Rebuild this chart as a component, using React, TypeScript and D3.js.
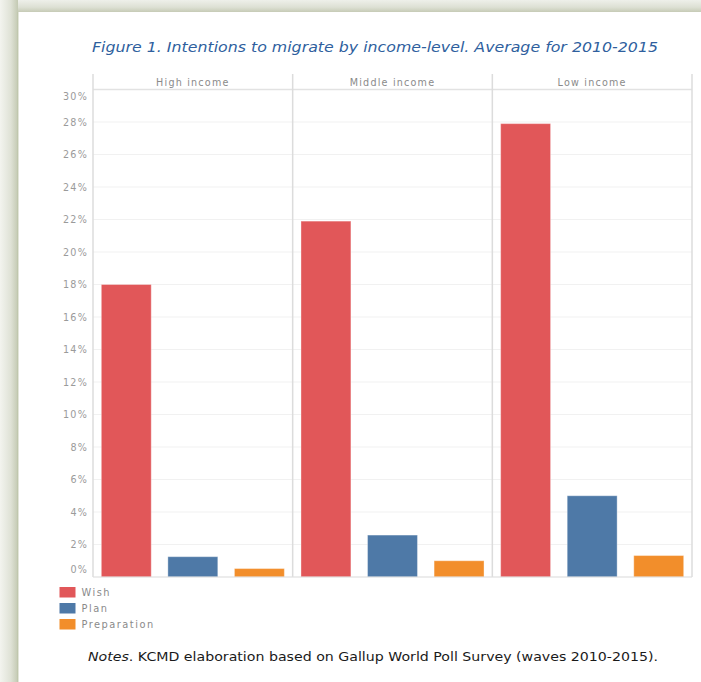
import React from "react";
import * as d3 from "d3";

const incomeGroups = ["High income", "Middle income", "Low income"];
const seriesNames = ["Wish", "Plan", "Preparation"];
const wishValues = [18.0, 21.9, 27.9];
const planValues = [1.25, 2.58, 5.0];
const prepValues = [0.52, 1.0, 1.32];
const yTicks = [0, 2, 4, 6, 8, 10, 12, 14, 16, 18, 20, 22, 24, 26, 28, 30];
const seriesColors = ["#e15759", "#4e79a7", "#f28e2b"];

const W = 701;
const H = 682;
const plotLeft = 93;
const plotRight = 692;
const plotTop = 89.5;
const plotBottom = 577;
const headerTop = 74;

export default function App() {
  const values = [wishValues, planValues, prepValues];
  const y = d3.scaleLinear().domain([0, 30]).range([plotBottom, plotTop]);
  const panel = d3.scaleBand<string>().domain(incomeGroups).range([plotLeft, plotRight]).padding(0);
  const inner = d3
    .scaleBand<string>()
    .domain(seriesNames)
    .range([0, panel.bandwidth()])
    .paddingInner(0.25)
    .paddingOuter(0.125);

  const font = "'DejaVu Sans', Verdana, sans-serif";

  return (
    <svg width={W} height={H} style={{ position: "absolute", left: 0, top: 0 }} xmlns="http://www.w3.org/2000/svg">
      <defs>
        <linearGradient id="leftBand" x1="0" x2="1" y1="0" y2="0">
          <stop offset="0" stopColor="#f3f4ef" />
          <stop offset="0.6" stopColor="#dfe2d6" />
          <stop offset="1" stopColor="#c3c9b2" />
        </linearGradient>
        <linearGradient id="topBand" x1="0" x2="0" y1="0" y2="1">
          <stop offset="0" stopColor="#eef0ea" />
          <stop offset="0.6" stopColor="#dde0d4" />
          <stop offset="1" stopColor="#c6cbb6" />
        </linearGradient>
      </defs>
      <rect x={0} y={0} width={W} height={H} fill="#ffffff" />
      <rect x={0} y={0} width={W} height={12} fill="url(#topBand)" />
      <rect x={0} y={0} width={18} height={H} fill="url(#leftBand)" />
      <line x1={18} x2={18} y1={12} y2={H} stroke="#b9c1a3" strokeWidth={0.8} />

      {/* Title */}
      <text
        x={375}
        y={52}
        textAnchor="middle"
        fontFamily={font}
        fontStyle="italic"
        fontSize={14}
        textLength={566}
        lengthAdjust="spacingAndGlyphs"
        fill="#2f5f9e"
      >
        Figure 1. Intentions to migrate by income-level. Average for 2010-2015
      </text>

      {/* gridlines */}
      {yTicks.map((t) => (
        <line
          key={"g" + t}
          x1={plotLeft}
          x2={plotRight}
          y1={y(t)}
          y2={y(t)}
          stroke={t === 30 ? "#e2e2e2" : "#f1f1f1"}
          strokeWidth={t === 30 ? 1.5 : 1}
        />
      ))}

      {/* panel vertical lines */}
      {incomeGroups.map((g) => (
        <line
          key={"v" + g}
          x1={panel(g)!}
          x2={panel(g)!}
          y1={headerTop}
          y2={plotBottom}
          stroke="#dcdcdc"
          strokeWidth={1.5}
        />
      ))}
      <line x1={plotRight} x2={plotRight} y1={headerTop} y2={plotBottom} stroke="#dcdcdc" strokeWidth={1.5} />

      {/* headers */}
      {incomeGroups.map((g) => (
        <text
          key={"h" + g}
          x={panel(g)! + panel.bandwidth() / 2}
          y={85.5}
          textAnchor="middle"
          fontFamily={font}
          fontSize={9.6}
          letterSpacing={1.2}
          fill="#8a8a8a"
        >
          {g}
        </text>
      ))}

      {/* bars */}
      {incomeGroups.map((g, gi) =>
        seriesNames.map((s, si) => {
          const v = values[si][gi];
          return (
            <rect
              key={g + s}
              x={panel(g)! + inner(s)!}
              y={y(v)}
              width={inner.bandwidth()}
              height={plotBottom - y(v)}
              fill={seriesColors[si]}
              stroke="#ffffff"
              strokeOpacity={0.35}
              strokeWidth={1}
            />
          );
        })
      )}

      {/* bottom axis line */}
      <line x1={plotLeft} x2={plotRight} y1={plotBottom} y2={plotBottom} stroke="#e0e0e0" strokeWidth={1.2} />

      {/* y tick labels */}
      {yTicks.map((t) => {
        let ty = y(t) + 3.5;
        if (t === 30) ty = y(t) + 10;
        if (t === 0) ty = y(t) - 4;
        return (
          <text
            key={"t" + t}
            x={88}
            y={ty}
            textAnchor="end"
            fontFamily={font}
            fontSize={9.6}
            letterSpacing={1.2}
            fill="#9a9a9a"
          >
            {t + "%"}
          </text>
        );
      })}

      {/* legend */}
      {seriesNames.map((s, si) => (
        <g key={"l" + s} transform={`translate(59.5, ${587 + si * 16})`}>
          <rect x={0} y={0} width={16} height={10.5} fill={seriesColors[si]} />
          <text x={22} y={9} fontFamily={font} fontSize={9.8} letterSpacing={1.5} fill="#8a8a8a">
            {s}
          </text>
        </g>
      ))}

      {/* notes */}
      <text
        x={373}
        y={661}
        textAnchor="middle"
        fontFamily={font}
        fontSize={13}
        textLength={570}
        lengthAdjust="spacingAndGlyphs"
        fill="#1a1a1a"
      >
        <tspan fontStyle="italic">Notes</tspan>
        <tspan>. KCMD elaboration based on Gallup World Poll Survey (waves 2010-2015).</tspan>
      </text>
    </svg>
  );
}
